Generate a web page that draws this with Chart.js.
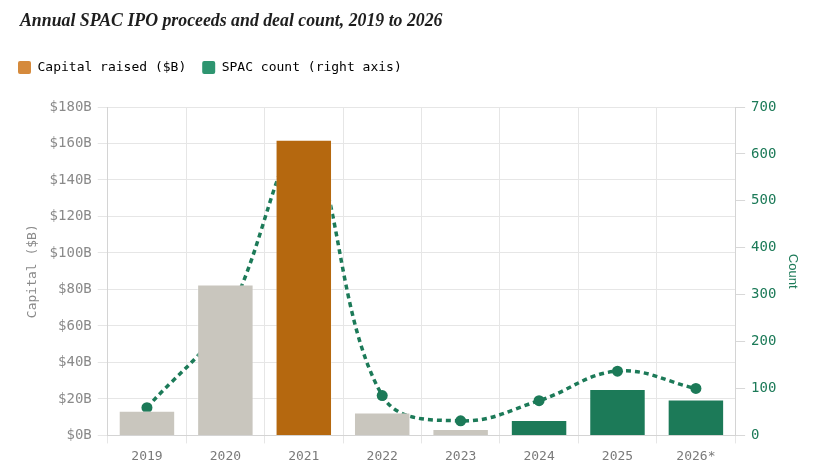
<!DOCTYPE html>
<html>
<head>
<meta charset="utf-8">
<script src="https://cdn.jsdelivr.net/npm/chart.js@4.4.1/dist/chart.umd.min.js"></script>
<style>
  html, body { margin: 0; padding: 0; background: #ffffff; }
  #wrap { position: relative; width: 825px; height: 466px; }
  #title {
    position: absolute; left: 20px; top: 9px; margin: 0;
    font-family: 'Liberation Serif', serif; font-weight: bold; font-style: italic;
    font-size: 17.8px; line-height: 22px; color: #1e1e1e; white-space: nowrap;
  }
  canvas { position: absolute; left: 0; top: 0; }
</style>
</head>
<body>
<div id="wrap">
  <canvas id="c" width="825" height="466"></canvas>
  <div id="title">Annual SPAC IPO proceeds and deal count, 2019 to 2026</div>
</div>
<script>
// ---- data ----
const categories = ['2019', '2020', '2021', '2022', '2023', '2024', '2025', '2026*'];
const capitalRaised = [13.5, 82.7, 162, 12.6, 3.5, 8.4, 25.4, 19.7];
const spacCount = [59, 248, 613, 85, 31, 74, 137, 100];
const leftTicks = [0, 20, 40, 60, 80, 100, 120, 140, 160, 180];
const rightTicks = [0, 100, 200, 300, 400, 500, 600, 700];

// ---- styles ----
const GRAY = '#c9c6be';
const ORANGE = '#b5680f';
const GREEN = '#1c7a58';
const barColors = [GRAY, GRAY, ORANGE, GRAY, GRAY, GREEN, GREEN, GREEN];
const MONO = "'DejaVu Sans Mono', 'Liberation Mono', monospace";

// extra space below the legend
const legendGap = {
  id: 'legendGap',
  beforeInit(chart) {
    const origFit = chart.legend.fit;
    chart.legend.fit = function () {
      origFit.call(this);
      this.height += 23;
    };
  }
};

new Chart(document.getElementById('c'), {
  data: {
    labels: categories,
    datasets: [
      {
        type: 'bar',
        label: 'Capital raised ($B)',
        data: capitalRaised,
        yAxisID: 'y',
        backgroundColor: barColors,
        borderColor: 'rgba(255,255,255,0.35)',
        borderWidth: 1,
        order: 1
      },
      {
        type: 'line',
        label: 'SPAC count (right axis)',
        data: spacCount,
        yAxisID: 'y1',
        borderColor: GREEN,
        backgroundColor: GREEN,
        borderWidth: 3.5,
        borderDash: [5, 4],
        tension: 0.4,
        pointRadius: 5.5,
        pointBackgroundColor: GREEN,
        pointBorderWidth: 0,
        fill: false,
        order: 2
      }
    ]
  },
  plugins: [legendGap],
  options: {
    responsive: false,
    animation: false,
    devicePixelRatio: 1,
    layout: { padding: { left: 2, right: 8, top: 45, bottom: -3 } },
    plugins: {
      title: { display: false },
      legend: {
        display: true,
        position: 'top',
        align: 'start',
        labels: {
          color: '#4a4a4a',
          font: { family: MONO, size: 13 },
          boxWidth: 13,
          boxHeight: 13,
          padding: 16,
          useBorderRadius: true,
          borderRadius: 2,
          generateLabels: () => [
            { text: 'Capital raised ($B)', fillStyle: '#d58a3c', strokeStyle: '#d58a3c', lineWidth: 0, borderRadius: 2, datasetIndex: 0 },
            { text: 'SPAC count (right axis)', fillStyle: '#2e9570', strokeStyle: '#2e9570', lineWidth: 0, borderRadius: 2, datasetIndex: 1 }
          ]
        }
      },
      tooltip: { enabled: false }
    },
    scales: {
      x: {
        grid: { color: '#e6e6e6', tickLength: 8, offset: true },
        border: { color: '#d4d4d4' },
        ticks: { color: '#7a7a7a', font: { family: MONO, size: 13 }, padding: 5 }
      },
      y: {
        position: 'left',
        min: 0,
        max: 180,
        afterBuildTicks: (axis) => { axis.ticks = leftTicks.map(v => ({ value: v })); },
        grid: { color: '#e6e6e6', tickLength: 10 },
        border: { color: '#d4d4d4' },
        ticks: {
          color: '#8a8a8a',
          font: { family: MONO, size: 14 },
          padding: 6,
          callback: (v) => '$' + v + 'B'
        },
        title: {
          display: true,
          text: 'Capital ($B)',
          color: '#8a8a8a',
          font: { family: MONO, size: 13 },
          padding: { top: 23, bottom: 3 }
        }
      },
      y1: {
        position: 'right',
        min: 0,
        max: 700,
        afterBuildTicks: (axis) => { axis.ticks = rightTicks.map(v => ({ value: v })); },
        grid: { drawOnChartArea: false, color: '#d8d8d8', tickLength: 10 },
        border: { color: '#d4d4d4' },
        ticks: {
          color: GREEN,
          font: { family: MONO, size: 14 },
          padding: 6
        },
        title: {
          display: true,
          text: 'Count',
          color: GREEN,
          font: { family: "'Liberation Sans', Arial, sans-serif", size: 13 },
          padding: { top: 17, bottom: 2 }
        }
      }
    }
  }
});
</script>
</body>
</html>
